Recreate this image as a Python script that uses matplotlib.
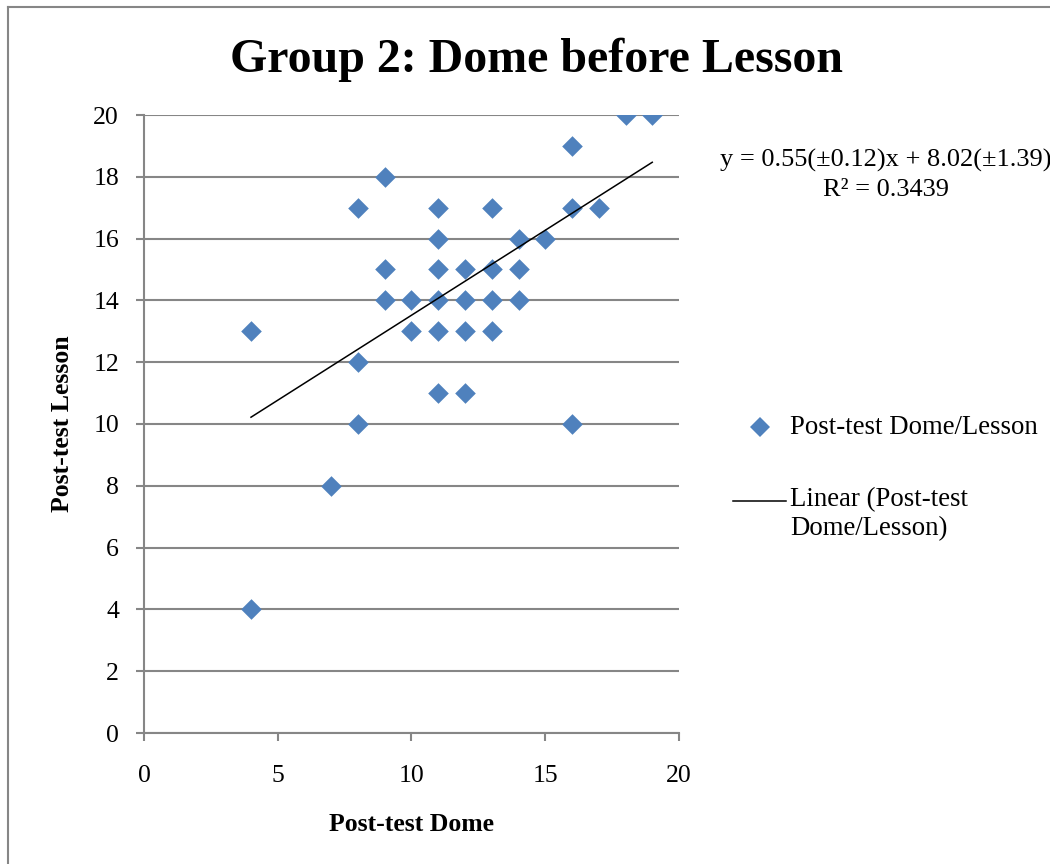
import matplotlib
matplotlib.use("Agg")
import matplotlib.pyplot as plt
from matplotlib.lines import Line2D
import numpy as np

# data
dome = [4, 4, 7, 8, 8, 8, 9, 9, 9, 10, 10, 11, 11, 11, 11, 11, 11,
        12, 12, 12, 12, 13, 13, 13, 13, 14, 14, 14, 15, 16, 16, 16, 17, 18, 19]
lesson = [13, 4, 8, 17, 12, 10, 18, 15, 14, 14, 13, 17, 16, 15, 14, 13, 11,
          15, 14, 13, 11, 17, 15, 14, 13, 16, 15, 14, 16, 19, 17, 10, 17, 20, 20]
fit_slope = 0.55
fit_icpt = 8.02
eq_text = "y = 0.55(\u00b10.12)x + 8.02(\u00b11.39)\nR\u00b2 = 0.3439"
series_name = 'Post-test Dome/Lesson'
trend_name = 'Linear (Post-test\nDome/Lesson)'

plt.rcParams['font.family'] = ['Liberation Serif', 'DejaVu Serif']
grey = '#868686'
blue = '#4F81BD'

W, H = 1050, 864
def fx(px):
    return px / W
def fy(py):
    return 1 - py / H

fig = plt.figure(figsize=(10.5, 8.64), dpi=100)
ax = fig.add_axes([fx(144), fy(733), fx(679 - 144), (733 - 115) / H])

ax.scatter(dome, lesson, marker='D', s=10.5**2, color=blue, linewidths=0,
           zorder=3)
xs = np.array([min(dome), max(dome)])
ax.plot(xs, fit_slope*xs + fit_icpt, color='black', lw=1.1, zorder=4)

ax.set_xlim(0, 20)
ax.set_ylim(0, 20)
ax.set_xticks(np.arange(0, 21, 5))
ax.set_yticks(np.arange(0, 21, 2))
ax.yaxis.grid(True, color=grey, lw=1.5)
ax.set_axisbelow(True)
for s in ['top', 'right']:
    ax.spines[s].set_visible(False)
for s in ['left', 'bottom']:
    ax.spines[s].set_color(grey)
    ax.spines[s].set_linewidth(1.5)
ax.tick_params(axis='both', direction='out', length=6, width=1.5, color=grey,
               labelsize=18.5)
ax.tick_params(axis='y', pad=12)
ax.tick_params(axis='x', pad=17)

ax.set_xlabel('Post-test Dome', fontsize=18.5, fontweight='bold', labelpad=19)
ax.set_ylabel('Post-test Lesson', fontsize=18.5, fontweight='bold', labelpad=14)

fig.text(fx(537), fy(60), 'Group 2: Dome before Lesson', fontsize=34.5,
         fontweight='bold', ha='center', va='center')
fig.text(fx(886), fy(175), eq_text, fontsize=19, ha='center', va='center',
         linespacing=1.4)

# legend drawn by hand, Excel style (line handle next to the first text line)
fig.add_artist(Line2D([fx(760)], [fy(427)], marker='D', markersize=10.5,
                      color=blue, markeredgewidth=0, linestyle='none',
                      transform=fig.transFigure))
fig.text(fx(790), fy(427), series_name, fontsize=19.3, va='center', ha='left')
fig.add_artist(Line2D([fx(733), fx(786)], [fy(501), fy(501)], color='black',
                      lw=1.1, transform=fig.transFigure))
fig.text(fx(790), fy(487), trend_name, fontsize=19.3, va='top', ha='left',
         linespacing=1.2)

# outer chart border (left and top edges visible)
fig.add_artist(Line2D([fx(8), fx(8)], [0, fy(7)], color=grey, lw=1.5,
                      transform=fig.transFigure))
fig.add_artist(Line2D([fx(8), 1], [fy(7), fy(7)], color=grey, lw=1.5,
                      transform=fig.transFigure))

fig.savefig('out.png', dpi=100)
